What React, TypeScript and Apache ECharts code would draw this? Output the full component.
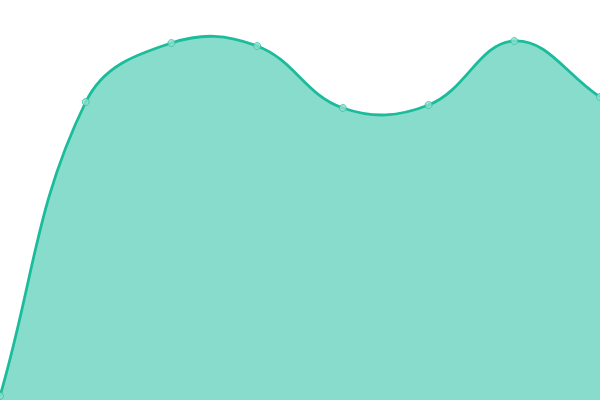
import { useEffect, useRef } from "react"
import * as echarts from "echarts"

const categories = ["1", "2", "3", "4", "5", "6", "7", "8"]
const values = [4, 298, 357, 354, 292, 295, 359, 303]

const TENSION = 0.4

// cardinal spline through the points, control points kept inside the plot area
function buildPaths(pts: number[][], rect: { x: number; y: number; width: number; height: number }) {
  const cap = (v: number, lo: number, hi: number) => Math.max(Math.min(v, hi), lo)
  const cps = pts.map((cur, i) => {
    const prev = pts[i - 1] || cur
    const next = pts[i + 1] || cur
    const d01 = Math.hypot(cur[0] - prev[0], cur[1] - prev[1])
    const d12 = Math.hypot(next[0] - cur[0], next[1] - cur[1])
    let s01 = d01 / (d01 + d12)
    let s12 = d12 / (d01 + d12)
    if (isNaN(s01)) s01 = 0
    if (isNaN(s12)) s12 = 0
    const fa = TENSION * s01
    const fb = TENSION * s12
    const capPt = (p: number[]) => [
      cap(p[0], rect.x, rect.x + rect.width),
      cap(p[1], rect.y, rect.y + rect.height),
    ]
    return {
      before: capPt([cur[0] - fa * (next[0] - prev[0]), cur[1] - fa * (next[1] - prev[1])]),
      after: capPt([cur[0] + fb * (next[0] - prev[0]), cur[1] + fb * (next[1] - prev[1])]),
    }
  })
  let line = `M${pts[0][0]},${pts[0][1]}`
  for (let i = 1; i < pts.length; i++) {
    const a = cps[i - 1].after
    const b = cps[i].before
    line += ` C${a[0]},${a[1]} ${b[0]},${b[1]} ${pts[i][0]},${pts[i][1]}`
  }
  const bottom = rect.y + rect.height
  const area = `${line} L${pts[pts.length - 1][0]},${bottom} L${pts[0][0]},${bottom} Z`
  return { line, area }
}

export default function App() {
  const chartRef = useRef<HTMLDivElement>(null)

  useEffect(() => {
    if (!chartRef.current) return
    const chart = echarts.init(chartRef.current, undefined, { renderer: "svg" })

    chart.setOption({
      animation: false,
      grid: { left: 0, right: 0, top: 0, bottom: 0 },
      xAxis: {
        type: "category",
        data: categories,
        boundaryGap: false,
        show: false,
      },
      yAxis: {
        type: "value",
        min: 0,
        max: 400,
        show: false,
      },
      series: [
        {
          type: "custom",
          data: [0],
          silent: true,
          renderItem: (params: any, api: any) => {
            const pts = values.map((v, i) => api.coord([i, v]))
            const { line, area } = buildPaths(pts, params.coordSys)
            return {
              type: "group",
              children: [
                {
                  type: "path",
                  shape: { pathData: area },
                  style: { fill: "rgba(26,188,156,0.52)", stroke: "none" },
                },
                {
                  type: "path",
                  shape: { pathData: line },
                  style: { fill: "none", stroke: "#1abc9c", lineWidth: 2.8 },
                },
              ],
            }
          },
        },
        {
          type: "scatter",
          data: values,
          symbol: "circle",
          symbolSize: 7,
          itemStyle: { color: "#8ee0cf", borderColor: "#3cc3a3", borderWidth: 1 },
          z: 3,
        },
      ],
    })

    return () => {
      chart.dispose()
    }
  }, [])

  return (
    <div
      ref={chartRef}
      style={{ position: "fixed", left: 0, top: 0, width: 600, height: 400 }}
    />
  )
}
